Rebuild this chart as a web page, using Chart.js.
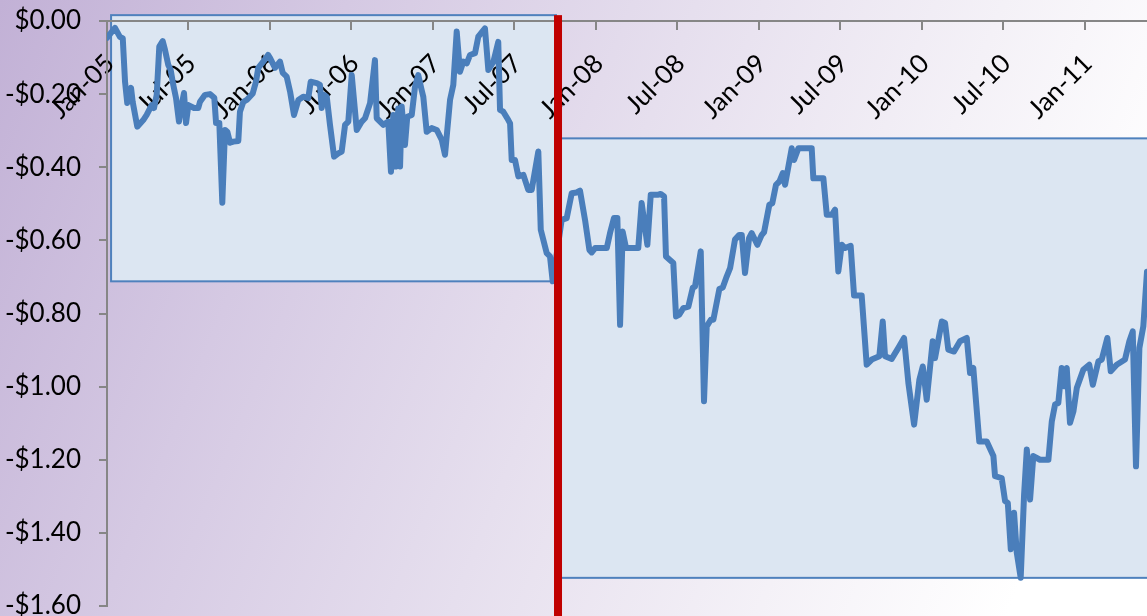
<!DOCTYPE html>
<html>
<head>
<meta charset="utf-8">
<script src="https://cdn.jsdelivr.net/npm/chart.js@4/dist/chart.umd.min.js"></script>
<style>
  html, body { margin: 0; padding: 0; width: 1147px; height: 616px; overflow: hidden; }
  body { background: linear-gradient(112deg, #c2b1d6 0%, #d5c9e3 25%, #e6dfee 50%, #f4f1f7 72%, #ffffff 90%); }
  canvas { display: block; }
</style>
</head>
<body>
<canvas id="spreadChart" width="1147" height="640"></canvas>
<script>
// x values are months since January 2005
const periodOneMonths = [0.00,0.59,0.96,1.16,1.33,1.49,1.77,1.89,2.23,2.67,
  2.92,3.29,3.46,3.66,3.85,4.10,4.27,4.51,4.69,4.88,
  5.08,5.30,5.45,5.67,5.82,5.99,6.41,6.72,6.85,7.22,
  7.58,7.90,8.03,8.27,8.49,8.69,8.86,9.06,9.30,9.67,
  9.79,10.04,10.29,10.73,10.97,11.14,11.49,11.86,12.00,12.37,
  12.74,12.94,13.23,13.48,13.77,14.09,14.45,14.82,15.00,15.44,
  15.68,15.81,15.98,16.18,16.42,16.72,17.03,17.28,17.53,17.77,
  18.02,18.39,18.76,19.00,19.37,19.73,19.86,20.35,20.71,20.91,
  21.08,21.26,21.45,21.58,21.70,21.94,22.11,22.44,22.68,22.92,
  23.17,23.29,23.54,23.91,24.28,24.65,24.89,25.26,25.50,25.75,
  25.99,26.24,26.49,26.73,27.10,27.34,27.83,28.08,28.45,28.81,
  28.94,29.18,29.55,29.68,29.80,30.04,30.29,30.66,31.02,31.27,
  31.76,31.94,32.38,32.62,32.82];
const periodOneValues = [-0.046,-0.019,-0.044,-0.047,-0.167,-0.224,-0.183,-0.221,-0.289,-0.271,
  -0.257,-0.230,-0.238,-0.202,-0.070,-0.055,-0.079,-0.120,-0.134,-0.175,
  -0.210,-0.275,-0.238,-0.197,-0.279,-0.230,-0.238,-0.238,-0.221,-0.202,
  -0.200,-0.210,-0.279,-0.279,-0.497,-0.298,-0.303,-0.333,-0.330,-0.328,
  -0.248,-0.221,-0.216,-0.198,-0.166,-0.128,-0.112,-0.093,-0.101,-0.128,
  -0.111,-0.142,-0.152,-0.193,-0.257,-0.216,-0.207,-0.211,-0.166,-0.170,
  -0.175,-0.238,-0.202,-0.207,-0.284,-0.371,-0.362,-0.357,-0.284,-0.275,
  -0.148,-0.298,-0.275,-0.266,-0.225,-0.107,-0.266,-0.284,-0.275,-0.412,
  -0.257,-0.398,-0.239,-0.398,-0.234,-0.339,-0.262,-0.257,-0.180,-0.148,
  -0.189,-0.207,-0.303,-0.293,-0.298,-0.325,-0.366,-0.216,-0.175,-0.029,
  -0.139,-0.111,-0.116,-0.093,-0.088,-0.043,-0.020,-0.134,-0.112,-0.057,
  -0.243,-0.248,-0.271,-0.280,-0.380,-0.380,-0.425,-0.421,-0.462,-0.462,
  -0.357,-0.571,-0.635,-0.644,-0.712];

const periodTwoMonths = [33.48,33.85,34.22,34.59,34.83,35.20,35.52,35.69,35.94,36.80,
  37.04,37.33,37.58,37.78,37.97,38.22,39.12,39.37,39.79,40.04,
  40.60,40.77,41.02,41.16,41.70,41.90,42.14,42.44,42.81,43.13,
  43.30,43.72,43.96,44.16,44.46,44.65,45.09,45.34,45.63,45.88,
  46.24,46.56,46.74,46.98,47.28,47.47,47.89,48.21,48.38,48.77,
  48.99,49.26,49.51,49.76,49.93,50.42,50.59,50.91,51.89,52.01,
  52.75,53.00,53.37,53.61,53.85,54.10,54.35,54.76,55.01,55.57,
  55.94,56.31,56.87,57.12,57.29,57.78,58.27,58.69,59.01,59.43,
  59.82,60.07,60.36,60.80,60.97,61.47,61.71,61.95,62.37,62.81,
  63.31,63.55,63.79,64.23,64.78,65.27,65.39,65.88,66.13,66.33,
  66.55,66.79,66.99,67.28,67.53,67.73,67.97,68.21,68.70,69.32,
  69.57,69.81,70.05,70.30,70.47,70.67,70.91,71.16,71.41,71.89,
  72.33,72.59,73.00,73.25,73.66,73.91,74.35,74.96,75.28,75.53,
  75.77,76.02,76.31,76.58];
const periodTwoValues = [-0.544,-0.539,-0.471,-0.469,-0.464,-0.544,-0.626,-0.633,-0.621,-0.621,
  -0.580,-0.539,-0.539,-0.831,-0.576,-0.621,-0.621,-0.498,-0.612,-0.475,
  -0.475,-0.473,-0.480,-0.644,-0.662,-0.808,-0.803,-0.785,-0.781,-0.730,
  -0.726,-0.630,-1.040,-0.835,-0.817,-0.817,-0.733,-0.729,-0.699,-0.676,
  -0.598,-0.585,-0.585,-0.689,-0.594,-0.580,-0.612,-0.585,-0.578,-0.503,
  -0.498,-0.448,-0.439,-0.416,-0.448,-0.348,-0.380,-0.348,-0.348,-0.430,
  -0.430,-0.530,-0.530,-0.516,-0.685,-0.612,-0.621,-0.615,-0.751,-0.751,
  -0.940,-0.926,-0.917,-0.822,-0.917,-0.924,-0.894,-0.867,-0.990,-1.104,
  -0.981,-0.945,-1.036,-0.876,-0.922,-0.822,-0.826,-0.899,-0.904,-0.876,
  -0.867,-0.963,-0.949,-1.150,-1.150,-1.190,-1.245,-1.250,-1.313,-1.318,
  -1.445,-1.345,-1.454,-1.523,-1.295,-1.172,-1.309,-1.190,-1.200,-1.200,
  -1.095,-1.049,-1.045,-0.949,-0.999,-0.949,-1.099,-1.068,-1.004,-0.954,
  -0.940,-0.995,-0.931,-0.926,-0.867,-0.958,-0.940,-0.926,-0.876,-0.849,
  -1.218,-0.894,-0.835,-0.686];

const xTickMonths = [0, 6, 12, 18, 24, 30, 36, 42, 48, 54, 60, 66, 72];
const xTickLabels = ['Jan-05','Jul-05','Jan-06','Jul-06','Jan-07','Jul-07','Jan-08',
  'Jul-08','Jan-09','Jul-09','Jan-10','Jul-10','Jan-11'];
const yTickValues = [0, -0.2, -0.4, -0.6, -0.8, -1.0, -1.2, -1.4, -1.6];
const yTickLabels = ['$0.00','-$0.20','-$0.40','-$0.60','-$0.80','-$1.00','-$1.20','-$1.40','-$1.60'];

// value ranges framed for each period
const periodOneRange = { from: 0.3, to: 33.06, high: 0.016, low: -0.712 };
const periodTwoRange = { from: 33.4, to: 80, high: -0.321, low: -1.523 };
const breakMonth = 33.21;
const lastMonth = 76.58;

const seriesPoints = periodOneMonths.map((m, i) => ({ x: m, y: periodOneValues[i] }))
  .concat(periodTwoMonths.map((m, i) => ({ x: m, y: periodTwoValues[i] })));

const rangeBoxes = {
  id: 'rangeBoxes',
  beforeDraw(chart) {
    const { ctx, scales: { x, y } } = chart;
    ctx.save();
    for (const r of [periodOneRange, periodTwoRange]) {
      const l = x.getPixelForValue(r.from);
      const rt = x.getPixelForValue(r.to);
      const t = y.getPixelForValue(r.high);
      const b = y.getPixelForValue(r.low);
      ctx.fillStyle = '#dce6f2';
      ctx.fillRect(l, t, rt - l, b - t);
      ctx.strokeStyle = '#4f81bd';
      ctx.lineWidth = 2;
      ctx.strokeRect(l, t, rt - l, b - t);
    }
    ctx.restore();
  }
};

const breakLine = {
  id: 'breakLine',
  afterDatasetsDraw(chart) {
    const { ctx, scales: { x, y } } = chart;
    const px = x.getPixelForValue(breakMonth);
    const top = y.getPixelForValue(periodOneRange.high);
    ctx.save();
    ctx.fillStyle = '#c00000';
    ctx.fillRect(px - 4, top, 8, chart.height - top);
    ctx.restore();
  }
};

const axisFont = { family: 'Lato', size: 26 };

new Chart(document.getElementById('spreadChart'), {
  type: 'line',
  data: {
    datasets: [{
      data: seriesPoints,
      borderColor: '#4a7ebb',
      borderWidth: 6,
      borderJoinStyle: 'round',
      borderCapStyle: 'round',
      pointRadius: 0,
      tension: 0,
      fill: false
    }]
  },
  options: {
    responsive: false,
    devicePixelRatio: 1,
    animation: false,
    parsing: false,
    layout: { padding: { top: 21, bottom: 34, left: 0, right: 0 } },
    plugins: { legend: { display: false }, tooltip: { enabled: false } },
    scales: {
      x: {
        type: 'linear',
        position: { y: 0 },
        min: 0,
        max: lastMonth,
        afterBuildTicks: s => { s.ticks = xTickMonths.map(v => ({ value: v })); },
        ticks: {
          autoSkip: false,
          minRotation: 45,
          maxRotation: 45,
          padding: 19,
          labelOffset: 3,
          color: '#000',
          font: axisFont,
          callback: (v, i) => xTickLabels[i]
        },
        grid: { drawOnChartArea: false, drawTicks: true, tickLength: 8, color: '#868686', lineWidth: 2 },
        border: { display: true, color: '#868686', width: 2 }
      },
      y: {
        type: 'linear',
        position: 'left',
        min: -1.6,
        max: 0,
        afterBuildTicks: s => { s.ticks = yTickValues.map(v => ({ value: v })); },
        afterFit: s => { s.width = 107; s.paddingTop = 0; s.paddingBottom = 0; },
        ticks: {
          padding: 18,
          color: '#000',
          font: axisFont,
          callback: (v, i) => yTickLabels[i]
        },
        grid: { drawOnChartArea: false, drawTicks: true, tickLength: 8, color: '#868686', lineWidth: 2 },
        border: { display: true, color: '#868686', width: 2 }
      }
    }
  },
  plugins: [rangeBoxes, breakLine]
});
</script>
</body>
</html>
